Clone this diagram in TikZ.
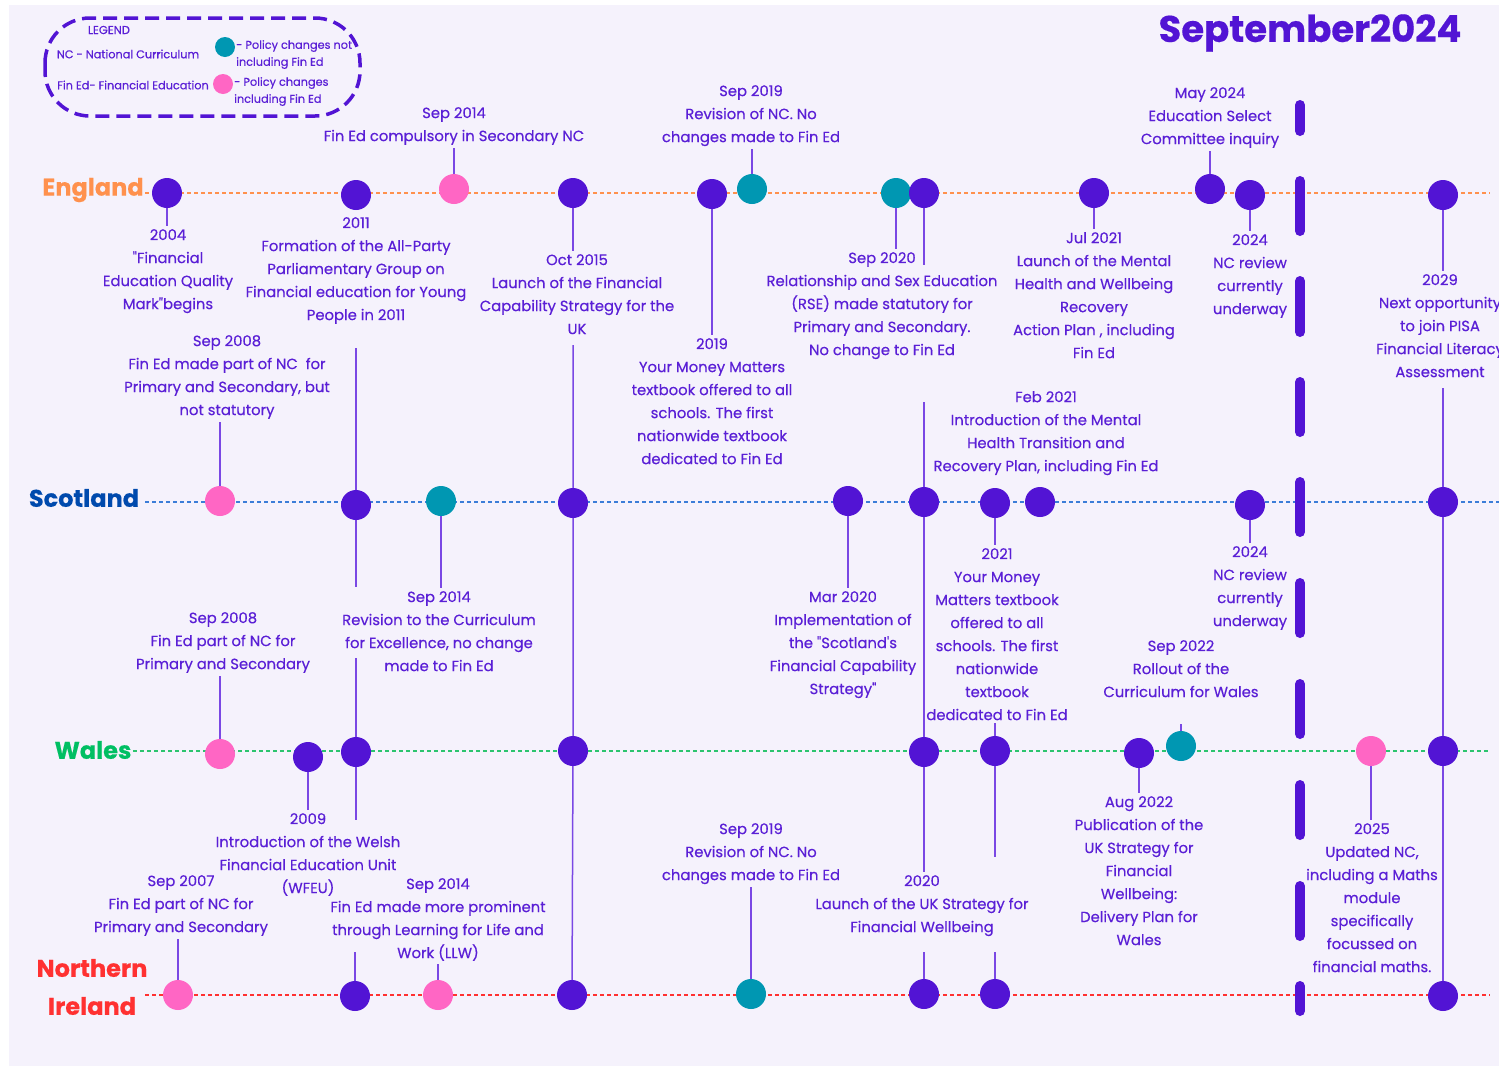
\documentclass[tikz,border=0pt]{standalone}
\usepackage{fontspec}
\setmainfont{Poppins}[Ligatures=TeXOff,FakeBold=0.4]
\usepackage{xcolor}
\usepackage{tikz}

\definecolor{bgc}{HTML}{F5F2FC}
\definecolor{dotp}{HTML}{5214D4}
\definecolor{txtp}{HTML}{5A1FD6}
\definecolor{linep}{HTML}{7A48E4}
\definecolor{tealc}{HTML}{0097B2}
\definecolor{pinkc}{HTML}{FF66C4}
\definecolor{engc}{HTML}{FF914D}
\definecolor{scoc}{HTML}{004AAD}
\definecolor{scol}{HTML}{3B7DD8}
\definecolor{walc}{HTML}{00BF63}
\definecolor{walline}{HTML}{2CC46E}
\definecolor{nic}{HTML}{FF3131}

\pgfdeclarelayer{bglayer}
\pgfdeclarelayer{stems}
\pgfsetlayers{bglayer,stems,main}

\tikzset{
  dotP/.style={circle,fill=dotp,minimum size=30pt,inner sep=0pt},
  dotT/.style={dotP,fill=tealc},
  dotK/.style={dotP,fill=pinkc},
  evt/.style={text=txtp,font=\fontsize{14.8}{23}\selectfont,align=center,inner sep=3pt,anchor=north},
  conn/.style={draw=linep,line width=1.5pt},
  rowline/.style={line width=1.2pt,dash pattern=on 4pt off 3pt},
  country/.style={font=\bfseries\fontsize{24}{38}\selectfont,align=center,inner sep=0pt},
  legendtext/.style={text=txtp,font=\fontsize{11.3}{17}\selectfont,inner sep=0pt}
}

\begin{document}
\begin{tikzpicture}[x=1pt,y=-1pt]
\useasboundingbox (0,0) rectangle (1499,1066);
\clip (0,0) rectangle (1499,1066);
\begin{pgfonlayer}{bglayer}
\fill[white] (0,0) rectangle (1499,1066);
\fill[bgc] (9,5) rectangle (1499,1066);
\end{pgfonlayer}

% legend
\draw[dotp,line width=3.5pt,dash pattern=on 14pt off 7pt,rounded corners=45pt] (45,18) rectangle (360,116);
\node[legendtext,font=\fontsize{11.5}{13}\selectfont] (leghead) at (109,30) {LEGEND};
\node[legendtext] (legnc) at (128,54) {NC - National Curriculum};
\node[legendtext] (legfe) at (133,85) {Fin Ed- Financial Education};
\node[dotT,minimum size=20pt] (legteal) at (225,47) {};
\node[dotK,minimum size=20pt] (legpink) at (223,84) {};
\node[legendtext,align=left,anchor=north west] (legtealtxt) at (236,40) {- Policy changes not\\including Fin Ed};
\node[legendtext,align=left,anchor=north west] (legpinktxt) at (234,77) {- Policy changes\\including Fin Ed};

% title
\node[text=dotp,font=\bfseries\fontsize{37}{45}\selectfont,inner sep=0pt] (title) at (1310,33) {September2024};

% countries
\node[country,text=engc] (england) at (93,190) {England};
\node[country,text=scoc] (scotland) at (84,498) {Scotland};
\node[country,text=walc] (wales) at (93,750) {Wales};
\node[country,text=nic] (nireland) at (92,987) {Northern\\Ireland};

\coordinate (enst) at (145,193);
\coordinate (scst) at (145,502);
\coordinate (wast) at (133,751);
\coordinate (nist) at (145,995);
\coordinate (enend) at (1490,193);
\coordinate (scend) at (1499,502);
\coordinate (waend) at (1490,751);
\coordinate (niend) at (1490,995);
\draw[rowline,engc] (enst) -- (enend);
\draw[rowline,scol] (scst) -- (scend);
\draw[rowline,walline] (wast) -- (waend);
\draw[rowline,nic] (nist) -- (niend);

% dashed divider
\foreach \a/\b in {100/136,176/236,276/337,377/437,477/537,578/638,679/739,780/840,881/941,981/1016}
  \draw[dotp,line width=10pt,line cap=round] (1300,\a+5) -- (1300,\b-5);

% England
\node[dotP] (en04) at (167,193) {};
\node[dotP] (en11) at (356,195) {};
\node[dotK] (en14) at (454,189) {};
\node[dotP] (en15) at (573,193) {};
\node[dotP] (en19) at (712,194) {};
\node[dotT] (en19b) at (752,189) {};
\node[dotT] (en20a) at (896,193) {};
\node[dotP] (en20b) at (924,193) {};
\node[dotP] (en21) at (1094,193) {};
\node[dotP] (en24a) at (1210,189) {};
\node[dotP] (en24b) at (1250,195) {};
\node[dotP] (en29) at (1443,195) {};

\node[evt] (en04lab) at (168,226) {2004\\"Financial\\Education Quality\\Mark"begins};
\node[evt] (en11lab) at (356,214) {2011\\Formation of the All-Party\\Parliamentary Group on\\Financial education for Young\\People in 2011};
\node[evt] (en14lab) at (454,104) {Sep 2014\\Fin Ed compulsory in Secondary NC};
\node[evt] (en15lab) at (577,251) {Oct 2015\\Launch of the Financial\\Capability Strategy for the\\UK};
\node[evt] (en19lab) at (712,335) {2019\\Your Money Matters\\textbook offered to all\\schools. The first\\nationwide textbook\\dedicated to Fin Ed};
\node[evt] (en19blab) at (751,82) {Sep 2019\\Revision of NC. No\\changes made to Fin Ed};
\node[evt] (en20lab) at (882,249) {Sep 2020\\Relationship and Sex Education\\(RSE) made statutory for\\Primary and Secondary.\\No change to Fin Ed};
\node[evt] (en21lab) at (1094,229) {Jul 2021\\Launch of the Mental\\Health and Wellbeing\\Recovery\\Action Plan , including\\Fin Ed};
\node[evt] (en24alab) at (1210,84) {May 2024\\Education Select\\Committee inquiry};
\node[evt] (en24blab) at (1250,231) {2024\\NC review\\currently\\underway};
\node[evt] (en29lab) at (1440,271) {2029\\Next opportunity\\to join PISA\\Financial Literacy\\Assessment};

% Scotland
\node[dotK] (sc08) at (220,501) {};
\node[dotP] (sc11) at (356,505) {};
\node[dotT] (sc14) at (441,501) {};
\node[dotP] (sc15) at (573,503) {};
\node[dotP] (sc20) at (848,501) {};
\node[dotP] (sc20b) at (924,502) {};
\node[dotP] (sc21) at (995,503) {};
\node[dotP] (sc21b) at (1040,502) {};
\node[dotP] (sc24) at (1250,505) {};
\node[dotP] (sc29) at (1443,502) {};

\node[evt] (sc08lab) at (227,332) {Sep 2008\\Fin Ed made part of NC~ for\\Primary and Secondary, but\\not statutory};
\node[evt] (sc14lab) at (439,588) {Sep 2014\\Revision to the Curriculum\\for Excellence, no change\\made to Fin Ed};
\node[evt] (sc20lab) at (843,588) {Mar 2020\\Implementation of\\the "Scotland's\\Financial Capability\\Strategy"};
\node[evt] (sc21lab) at (997,545) {2021\\Your Money\\Matters textbook\\offered to all\\schools. The first\\nationwide\\textbook\\dedicated to Fin Ed};
\node[evt] (sc21blab) at (1046,388) {Feb 2021\\Introduction of the Mental\\Health Transition and\\Recovery Plan, including Fin Ed};
\node[evt] (sc24lab) at (1250,543) {2024\\NC review\\currently\\underway};

% Wales
\node[dotK] (wa08) at (220,754) {};
\node[dotP] (wa09) at (308,757) {};
\node[dotP] (wa11) at (356,752) {};
\node[dotP] (wa15) at (573,751) {};
\node[dotP] (wa20) at (924,752) {};
\node[dotP] (wa21) at (995,751) {};
\node[dotP] (wa22a) at (1139,753) {};
\node[dotT] (wa22b) at (1181,746) {};
\node[dotK] (wa25) at (1371,751) {};
\node[dotP] (wa29) at (1443,751) {};

\node[evt] (wa08lab) at (223,609) {Sep 2008\\Fin Ed part of NC for\\Primary and Secondary};
\node[evt] (wa09lab) at (308,810) {2009\\Introduction of the Welsh\\Financial Education Unit\\(WFEU)};
\node[evt] (uk20lab) at (922,872) {2020\\Launch of the UK Strategy for\\Financial Wellbeing};
\node[evt] (wa22alab) at (1139,793) {Aug 2022\\Publication of the\\UK Strategy for\\Financial\\Wellbeing:\\Delivery Plan for\\Wales};
\node[evt] (wa22blab) at (1181,637) {Sep 2022\\Rollout of the\\Curriculum for Wales};
\node[evt] (wa25lab) at (1372,820) {2025\\Updated NC,\\including a Maths\\module\\specifically\\focussed on\\financial maths.};

% Northern Ireland
\node[dotK] (ni07) at (178,995) {};
\node[dotP] (ni11) at (355,996) {};
\node[dotK] (ni14) at (438,995) {};
\node[dotP] (ni15) at (572,995) {};
\node[dotT] (ni19) at (751,994) {};
\node[dotP] (ni20) at (924,994) {};
\node[dotP] (ni21) at (995,994) {};
\node[dotP] (ni29) at (1443,996) {};

\node[evt] (ni07lab) at (181,872) {Sep 2007\\Fin Ed part of NC for\\Primary and Secondary};
\node[evt] (ni14lab) at (438,875) {Sep 2014\\Fin Ed made more prominent\\through Learning for Life and\\Work (LLW)};
\node[evt] (ni19lab) at (751,820) {Sep 2019\\Revision of NC. No\\changes made to Fin Ed};

% free ends of the long stems
\coordinate (c11a) at (356,348);
\coordinate (c11b) at (356,587);
\coordinate (c11c) at (356,658);
\coordinate (c11d) at (356,820);
\coordinate (c11e) at (355,952);
\coordinate (c15) at (573,345);
\coordinate (c20a) at (924,265);
\coordinate (c20b) at (924,402);
\coordinate (c20e) at (924,952);
\coordinate (c21b) at (995,857);
\coordinate (c21e) at (995,952);
\coordinate (c22) at (1181,724);
\coordinate (c29) at (1443,388);

\begin{pgfonlayer}{stems}
% England stems
\draw[conn] (en04) -- (en04 |- en04lab.north);
\draw[conn] (en14) -- (en14 |- en14lab.south);
\draw[conn] (en15) -- (en15 |- en15lab.north);
\draw[conn] (en19) -- (en19 |- en19lab.north);
\draw[conn] (en19b) -- (en19b |- en19blab.south);
\draw[conn] (en20a) -- (en20a |- en20lab.north);
\draw[conn] (en20b) -- (c20a);
\draw[conn] (en21) -- (en21 |- en21lab.north);
\draw[conn] (en24a) -- (en24a |- en24alab.south);
\draw[conn] (en24b) -- (en24b |- en24blab.north);
\draw[conn] (en29) -- (en29 |- en29lab.north);
% long stems
\draw[conn] (c11a) -- (sc11) -- (c11b);
\draw[conn] (c11c) -- (wa11) -- (c11d);
\draw[conn] (ni11) -- (c11e);
\draw[conn] (c15) -- (sc15) -- (wa15) -- (ni15);
\draw[conn] (c20b) -- (sc20b) -- (wa20) -- (wa20 |- uk20lab.north);
\draw[conn] (ni20) -- (c20e);
\draw[conn] (c29) -- (sc29) -- (wa29) -- (ni29);
% Scotland stems
\draw[conn] (sc08) -- (sc08 |- sc08lab.south);
\draw[conn] (sc14) -- (sc14 |- sc14lab.north);
\draw[conn] (sc20) -- (sc20 |- sc20lab.north);
\draw[conn] (sc21) -- (sc21 |- sc21lab.north);
\draw[conn] (sc24) -- (sc24 |- sc24lab.north);
\draw[conn] (wa21 |- sc21lab.south) -- (wa21) -- (c21b);
\draw[conn] (ni21) -- (c21e);
% Wales stems
\draw[conn] (wa08) -- (wa08 |- wa08lab.south);
\draw[conn] (wa09) -- (wa09 |- wa09lab.north);
\draw[conn] (wa22a) -- (wa22a |- wa22alab.north);
\draw[conn] (wa22b) -- (c22);
\draw[conn] (wa25) -- (wa25 |- wa25lab.north);
% Northern Ireland stems
\draw[conn] (ni07) -- (ni07 |- ni07lab.south);
\draw[conn] (ni14) -- (ni14 |- ni14lab.south);
\draw[conn] (ni19) -- (ni19 |- ni19lab.south);
\end{pgfonlayer}

\end{tikzpicture}
\end{document}
